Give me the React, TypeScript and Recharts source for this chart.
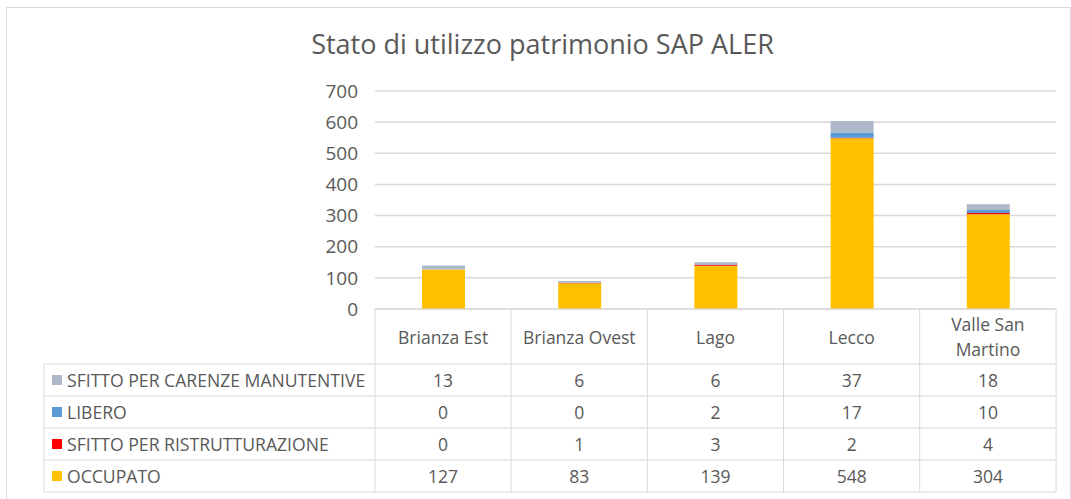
import React from "react";
import { BarChart, Bar, XAxis, YAxis, CartesianGrid } from "recharts";

const categories = ["Brianza Est", "Brianza Ovest", "Lago", "Lecco", "Valle San Martino"];
const occupato = [127, 83, 139, 548, 304];
const ristrutturazione = [0, 1, 3, 2, 4];
const libero = [0, 0, 2, 17, 10];
const carenze = [13, 6, 6, 37, 18];
const yTicks = [0, 100, 200, 300, 400, 500, 600, 700];

// header line breaks as in the source table
const headerLines: Record<string, string[]> = {
  "Valle San Martino": ["Valle San", "Martino"],
};

// table rows, top to bottom
const series = [
  { key: "carenze", name: "SFITTO PER CARENZE MANUTENTIVE", color: "#ADB9CA", values: carenze },
  { key: "libero", name: "LIBERO", color: "#5B9BD5", values: libero },
  { key: "ristrutturazione", name: "SFITTO PER RISTRUTTURAZIONE", color: "#FF0000", values: ristrutturazione },
  { key: "occupato", name: "OCCUPATO", color: "#FFC000", values: occupato },
];

const data = categories.map((name, i) => ({
  name,
  occupato: occupato[i],
  ristrutturazione: ristrutturazione[i],
  libero: libero[i],
  carenze: carenze[i],
}));

const FONT = "'Open Sans', 'Noto Sans', sans-serif";
const TEXT = "#595959";
const LINE = "#d9d9d9";
const HEADER_H = 55;
const ROW_H = 32;
const LEGEND_X = 44;
const CELL_FS = 17.5;

function TableTick(props: any) {
  const { x, y, payload, index, visibleTicksCount } = props;
  const band = 682 / categories.length;
  const left = x - band / 2;
  const right = x + band / 2;
  const lines = headerLines[payload.value] || [payload.value];
  const top = y;
  const bottom = top + HEADER_H + ROW_H * series.length;
  return (
    <g>
      <line x1={left} x2={left} y1={top} y2={bottom} stroke={LINE} />
      {index === (visibleTicksCount ?? categories.length) - 1 && (
        <line x1={right} x2={right} y1={top} y2={bottom} stroke={LINE} />
      )}
      {lines.map((l, li) => (
        <text
          key={li}
          x={x}
          y={top + HEADER_H / 2 + (li - (lines.length - 1) / 2) * 25}
          textAnchor="middle"
          dominantBaseline="central"
          fill={TEXT}
          fontSize={CELL_FS}
          fontFamily={FONT}
        >
          {l}
        </text>
      ))}
      {series.map((s, si) => (
        <text
          key={s.key}
          x={x}
          y={top + HEADER_H + ROW_H * si + ROW_H / 2}
          textAnchor="middle"
          dominantBaseline="central"
          fill={TEXT}
          fontSize={CELL_FS}
          fontFamily={FONT}
        >
          {s.values[index]}
        </text>
      ))}
    </g>
  );
}

export default function App() {
  const tableTop = 309;
  return (
    <div style={{ position: "absolute", left: 0, top: 0, width: 1071, height: 499, background: "#fff", overflow: "hidden" }}>
      <svg width={1071} height={499} style={{ position: "absolute", left: 0, top: 0 }}>
        <rect x={6.5} y={7.5} width={1064} height={520} fill="#fff" stroke={LINE} />
      </svg>
      <div
        style={{
          position: "absolute",
          left: 0,
          top: 24,
          width: 1085,
          textAlign: "center",
          fontFamily: FONT,
          fontSize: 27,
          lineHeight: "40px",
          color: TEXT,
        }}
      >
        Stato di utilizzo patrimonio SAP ALER
      </div>
      <div style={{ position: "absolute", left: 0, top: 0 }}>
        <BarChart
          width={1071}
          height={499}
          data={data}
          margin={{ top: 91, right: 15, left: 315, bottom: 7 }}
          barSize={43}
        >
          <CartesianGrid vertical={false} stroke={LINE} strokeWidth={1.5} />
          <YAxis
            domain={[0, 700]}
            ticks={yTicks}
            width={60}
            axisLine={false}
            tickLine={false}
            tickSize={0}
            tickMargin={17}
            tick={{ fill: TEXT, fontSize: 19, fontFamily: FONT }}
          />
          <XAxis
            dataKey="name"
            height={183}
            axisLine={{ stroke: LINE }}
            tickLine={false}
            tickSize={0}
            tickMargin={0}
            interval={0}
            tick={<TableTick />}
          />
          <Bar dataKey="occupato" stackId="a" fill="#FFC000" isAnimationActive={false} />
          <Bar dataKey="ristrutturazione" stackId="a" fill="#FF0000" isAnimationActive={false} />
          <Bar dataKey="libero" stackId="a" fill="#5B9BD5" isAnimationActive={false} />
          <Bar dataKey="carenze" stackId="a" fill="#ADB9CA" isAnimationActive={false} />
        </BarChart>
      </div>
      <svg width={1071} height={499} style={{ position: "absolute", left: 0, top: 0, pointerEvents: "none" }}>
        {series.map((s, si) => {
          const y = tableTop + HEADER_H + ROW_H * si;
          return (
            <g key={s.key}>
              <line x1={LEGEND_X} x2={1056} y1={y} y2={y} stroke={LINE} />
              <rect x={52} y={y + ROW_H / 2 - 5} width={10} height={10} fill={s.color} />
              <text
                x={67}
                y={y + ROW_H / 2}
                dominantBaseline="central"
                fill={TEXT}
                fontSize={17.6}
                fontFamily={FONT}
              >
                {s.name}
              </text>
            </g>
          );
        })}
        <line
          x1={LEGEND_X}
          x2={1056}
          y1={tableTop + HEADER_H + ROW_H * series.length}
          y2={tableTop + HEADER_H + ROW_H * series.length}
          stroke={LINE}
        />
        <line
          x1={LEGEND_X}
          x2={LEGEND_X}
          y1={tableTop + HEADER_H}
          y2={tableTop + HEADER_H + ROW_H * series.length}
          stroke={LINE}
        />
      </svg>
    </div>
  );
}
